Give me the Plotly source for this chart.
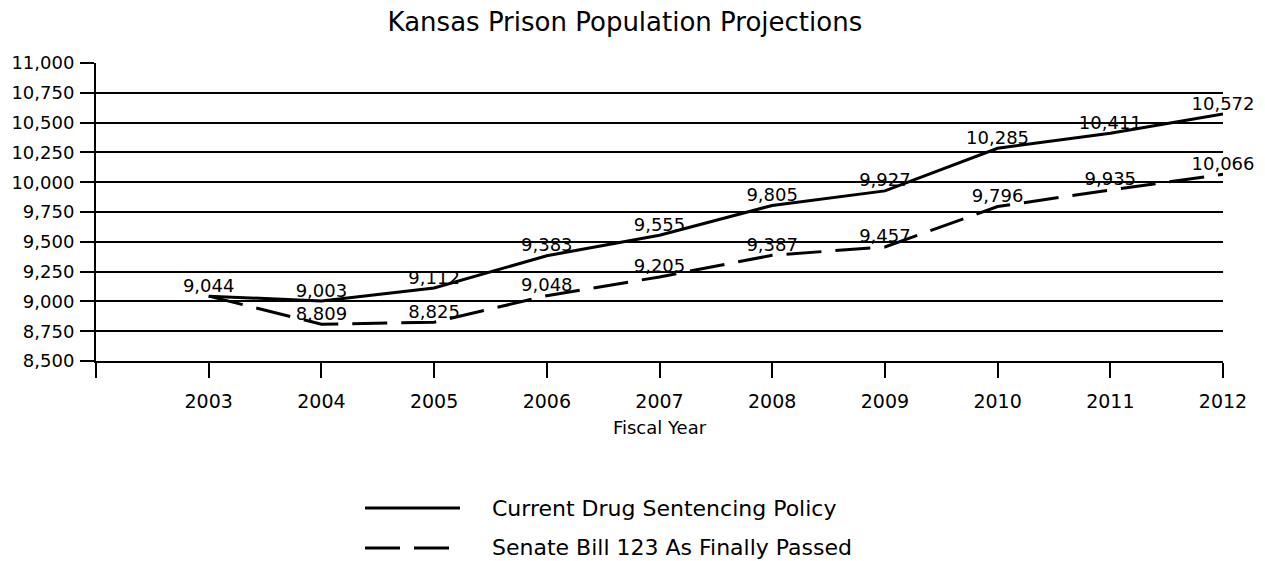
import plotly.graph_objects as go

years = [2003, 2004, 2005, 2006, 2007, 2008, 2009, 2010, 2011, 2012]
current_policy = [9044, 9003, 9112, 9383, 9555, 9805, 9927, 10285, 10411, 10572]
senate_bill = [9044, 8809, 8825, 9048, 9205, 9387, 9457, 9796, 9935, 10066]
y_ticks = [8500, 8750, 9000, 9250, 9500, 9750, 10000, 10250, 10500, 10750, 11000]
series_names = ["Current Drug Sentencing Policy", "Senate Bill 123 As Finally Passed"]
title_text = "Kansas Prison Population Projections"
x_title = "Fiscal Year"

FONT = "DejaVu Sans"
DASH = "35px,14px"

cur_text = [f"{v:,}" for v in current_policy]
sen_text = [""] + [f"{v:,}" for v in senate_bill[1:]]

fig = go.Figure()
fig.add_trace(go.Scatter(
    x=years, y=current_policy, name=series_names[0], mode="lines+text",
    text=cur_text, textposition="top center",
    textfont=dict(family=FONT, size=18, color="black"),
    line=dict(color="black", width=3), cliponaxis=False, showlegend=False))
fig.add_trace(go.Scatter(
    x=years, y=senate_bill, name=series_names[1], mode="lines+text",
    text=sen_text, textposition="top center",
    textfont=dict(family=FONT, size=18, color="black"),
    line=dict(color="black", width=3, dash=DASH), cliponaxis=False, showlegend=False))

# manual legend (long line samples)
leg_x0, leg_x1, leg_tx = 0.2387, 0.3230, 0.3496
leg_rows = [-0.4933, -0.6275]
for i, (nm, dash) in enumerate(zip(series_names, ["solid", DASH])):
    fig.add_shape(type="line", xref="paper", yref="paper",
                  x0=leg_x0, x1=leg_x1, y0=leg_rows[i], y1=leg_rows[i],
                  line=dict(color="black", width=3, dash=dash))
    fig.add_annotation(text=nm, xref="paper", yref="paper", x=leg_tx, y=leg_rows[i],
                       xanchor="left", yanchor="middle", showarrow=False,
                       font=dict(family=FONT, size=22, color="black"))

tickvals_x = [years[0] - 1] + years
ticktext_x = [""] + [str(y) for y in years]

fig.update_layout(
    width=1265, height=561,
    paper_bgcolor="white", plot_bgcolor="white",
    margin=dict(l=96, r=42, t=63, b=200),
    title=dict(text=title_text, x=0.494, xref="container", xanchor="center",
               y=1 - 22 / 561, yref="container", yanchor="middle",
               font=dict(family=FONT, size=26, color="black")),
    font=dict(family=FONT, color="black"),
    xaxis=dict(range=[years[0] - 1, years[-1]], tickvals=tickvals_x, ticktext=ticktext_x,
               ticks="outside", ticklen=15, tickwidth=2, tickcolor="black",
               ticklabelstandoff=7,
               showline=True, linecolor="black", linewidth=2, showgrid=False, zeroline=False,
               tickfont=dict(family=FONT, size=19, color="black"),
               title=dict(text=x_title, font=dict(family=FONT, size=18, color="black"), standoff=11)),
    yaxis=dict(range=[y_ticks[0], y_ticks[-1]], tickvals=y_ticks, tickformat=",",
               ticks="outside", ticklen=14, tickwidth=2, tickcolor="black",
               ticklabelstandoff=2,
               showline=True, linecolor="black", linewidth=2,
               showgrid=True, gridcolor="black", gridwidth=2, zeroline=False,
               tickfont=dict(family=FONT, size=18, color="black")),
)

fig.write_html("out.html", config={"displayModeBar": False},
               post_script="document.body.style.margin='0';document.body.style.overflow='hidden';")
